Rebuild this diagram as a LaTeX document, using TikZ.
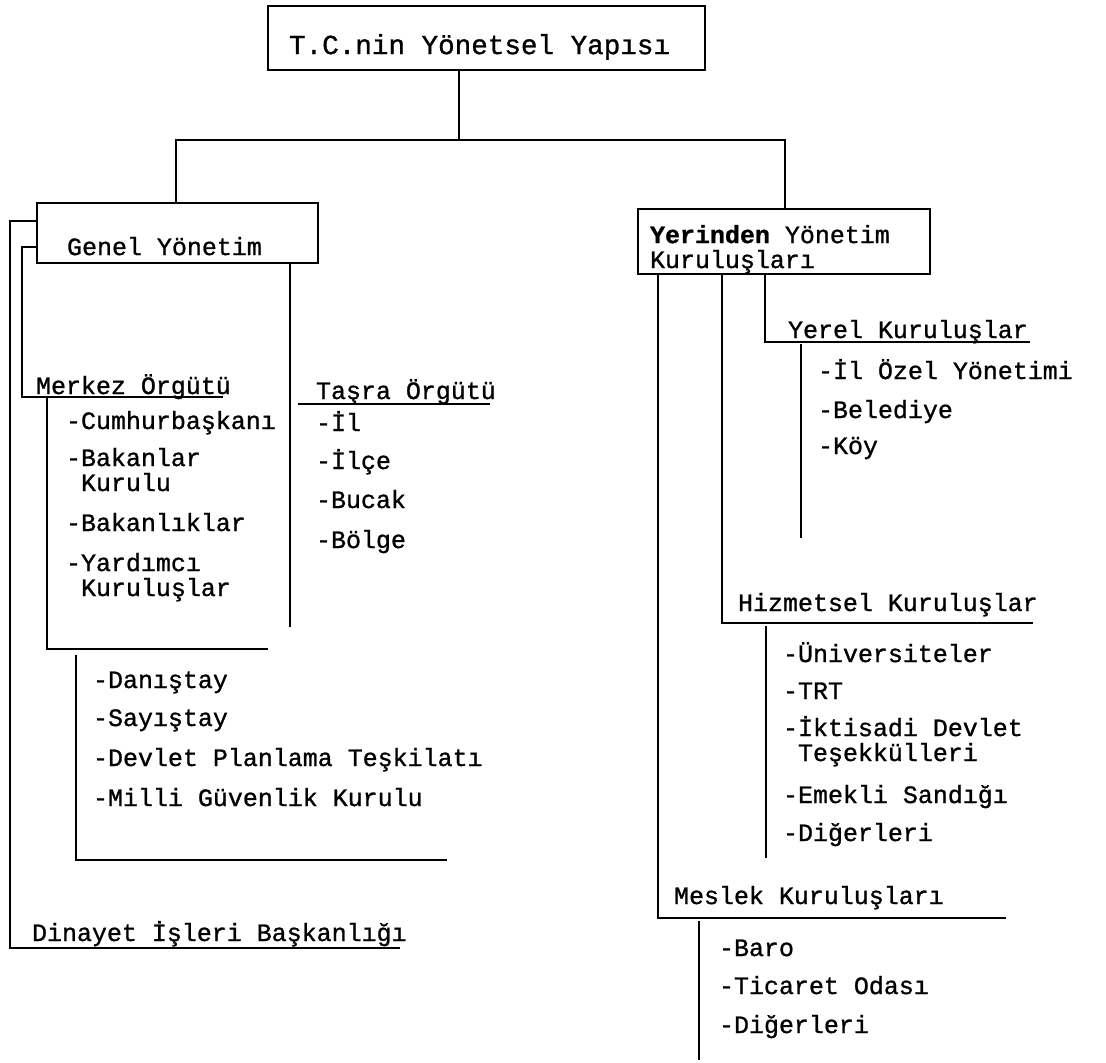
\documentclass[tikz,border=0pt]{standalone}
\usepackage{fontspec}
\newfontfamily\daktilo[FakeBold=1]{Liberation Mono}

\begin{document}
\begin{tikzpicture}[x=0.01cm, y=-0.01cm, line width=0.6pt,
    orgbox/.style={draw, anchor=north west, align=left, inner ysep=0pt, text depth=0pt, font=\daktilo\fontsize{7.1}{7.1}\selectfont, execute at begin node={\spaceskip=0pt\xspaceskip=0pt\relax}},
    entry/.style={anchor=base west, inner sep=0pt, align=left, font=\daktilo\fontsize{7.1}{7.1}\selectfont},
    heading/.style={entry}]
    \useasboundingbox (0,0) rectangle (1106,1062);

    % boxes
    \node[orgbox, inner xsep=0.21cm, text width=3.95cm, minimum height=0.64cm, text height=9.1pt, font=\daktilo\fontsize{7.85}{7.85}\selectfont] (title) at (267,5) {T.C.nin Yönetsel Yapısı};
    \node[orgbox, inner xsep=0.30cm, text width=2.21cm, minimum height=0.60cm, text height=12.5pt] (genel) at (36,202) {Genel Yönetim};
    \node[orgbox, inner xsep=0.12cm, text width=2.68cm, minimum height=0.65cm, text height=0.85pt] (yerinden) at (637,208) {{\bfseries Yerinden} Yönetim\\Kuruluşları};

    % headings
    \node[heading] (merkez) at (35,394) {Merkez Örgütü};
    \node[heading] (tasra) at (315,399) {Taşra Örgütü};
    \node[heading] (diyanet) at (31,941) {Dinayet İşleri Başkanlığı};
    \node[heading] (yerel) at (787,338) {Yerel Kuruluşlar};
    \node[heading] (hizmet) at (737,611) {Hizmetsel Kuruluşlar};
    \node[heading] (meslek) at (673,904) {Meslek Kuruluşları};

    % merkez items (two-line entries sit on their last line)
    \node[entry] (cumhur) at (65,429) {-Cumhurbaşkanı};
    \node[entry] (bakkur) at (65,491) {-Bakanlar\\\phantom{-}Kurulu};
    \node[entry] (bakanlik) at (65,531) {-Bakanlıklar};
    \node[entry] (yardimci) at (65,596) {-Yardımcı\\\phantom{-}Kuruluşlar};
    % tasra items
    \node[entry] (il) at (315,431) {-İl};
    \node[entry] (ilce) at (315,469) {-İlçe};
    \node[entry] (bucak) at (315,508) {-Bucak};
    \node[entry] (bolge) at (315,548) {-Bölge};
    % danistay group
    \node[entry] (danistay) at (92,688) {-Danıştay};
    \node[entry] (sayistay) at (92,726) {-Sayıştay};
    \node[entry] (dpt) at (92,766) {-Devlet Planlama Teşkilatı};
    \node[entry] (mgk) at (92,806) {-Milli Güvenlik Kurulu};
    % yerel items
    \node[entry] (ozel) at (817,379) {-İl Özel Yönetimi};
    \node[entry] (belediye) at (817,418) {-Belediye};
    \node[entry] (koy) at (817,454) {-Köy};
    % hizmetsel items
    \node[entry] (univ) at (782,662) {-Üniversiteler};
    \node[entry] (trt) at (782,699) {-TRT};
    \node[entry] (kit) at (782,761) {-İktisadi Devlet\\\phantom{-}Teşekkülleri};
    \node[entry] (emekli) at (782,803) {-Emekli Sandığı};
    \node[entry] (hdiger) at (782,841) {-Diğerleri};
    % meslek items
    \node[entry] (baro) at (718,956) {-Baro};
    \node[entry] (ticaret) at (718,994) {-Ticaret Odası};
    \node[entry] (mdiger) at (718,1033) {-Diğerleri};

    % top split
    \coordinate (split) at (459,140);
    \coordinate (lt) at (176,140);
    \coordinate (rt) at (785,140);
    \draw (title.south -| split) -- (split);
    \draw (genel.north -| lt) |- (split) -| (yerinden.north -| rt);

    % genel yonetim side
    \coordinate (g1) at (10,221);
    \coordinate (d1) at (400,948);
    \draw (genel.west |- g1) -| (g1 |- d1) -- (d1);
    \coordinate (g2) at (22,247);
    \coordinate (m1) at (223,397);
    \draw (genel.west |- g2) -| (g2 |- m1) -- (m1);
    \coordinate (mv0) at (47,397);
    \coordinate (mv2) at (268,649);
    \draw (mv0) |- (mv2);
    \coordinate (tv) at (290,627);
    \draw (genel.south -| tv) -- (tv);
    \coordinate (ts0) at (298,404);
    \coordinate (ts1) at (490,404);
    \draw (ts0) -- (ts1);
    \coordinate (dv0) at (76,655);
    \coordinate (dv2) at (447,860);
    \draw (dv0) |- (dv2);

    % yerinden yonetim side
    \coordinate (k1) at (658,918);
    \coordinate (k1e) at (1006,918);
    \draw (yerinden.south -| k1) -- (k1) -- (k1e);
    \coordinate (k2) at (722,623);
    \coordinate (k2e) at (1033,623);
    \draw (yerinden.south -| k2) -- (k2) -- (k2e);
    \coordinate (k3) at (765,342);
    \coordinate (k3e) at (1030,342);
    \draw (yerinden.south -| k3) -- (k3) -- (k3e);
    \coordinate (yv0) at (801,344);
    \coordinate (yv1) at (801,538);
    \draw (yv0) -- (yv1);
    \coordinate (hv0) at (766,626);
    \coordinate (hv1) at (766,858);
    \draw (hv0) -- (hv1);
    \coordinate (mk0) at (699,921);
    \coordinate (mk1) at (699,1060);
    \draw (mk0) -- (mk1);
\end{tikzpicture}
\end{document}
